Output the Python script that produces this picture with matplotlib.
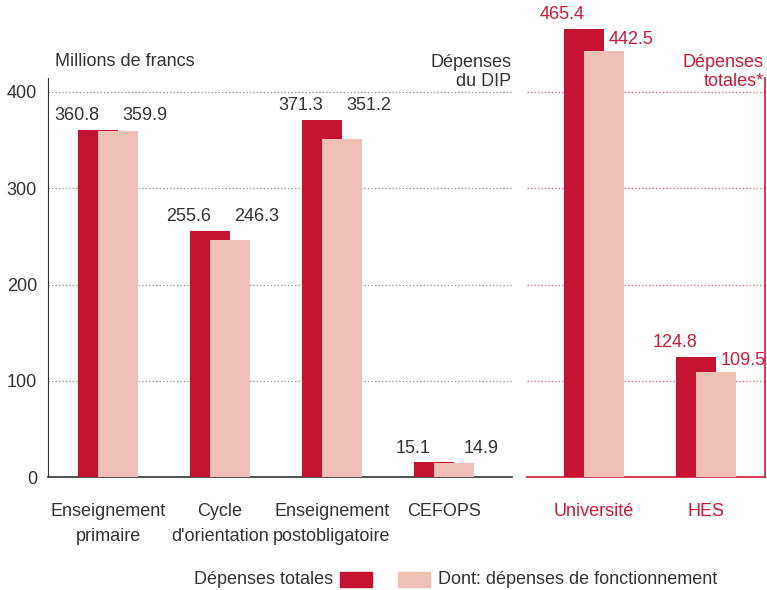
import matplotlib
matplotlib.use('Agg')
from matplotlib import pyplot as plt
from matplotlib.patches import Rectangle
import numpy as np

plt.rcParams['font.family'] = ['Liberation Sans', 'DejaVu Sans']
plt.rcParams['font.size'] = 13

# data
dip_cats = ['Enseignement\nprimaire', "Cycle\nd'orientation", 'Enseignement\npostobligatoire', 'CEFOPS']
dip_total = [360.8, 255.6, 371.3, 15.1]
dip_fonct = [359.9, 246.3, 351.2, 14.9]

tot_cats = ['Université', 'HES']
tot_total = [465.4, 124.8]
tot_fonct = [442.5, 109.5]

yticks = [0, 100, 200, 300, 400]

dark = '#c41230'
light = '#eec0b6'
grey = '#333333'
red = '#cc1a3a'

W, H = 767, 590
fig = plt.figure(figsize=(W/100, H/100), dpi=100)

def box(x0, x1, y0, y1):
    return [x0/W, 1-y1/H, (x1-x0)/W, (y1-y0)/H]

ax1 = fig.add_axes(box(48, 512, 5, 477))
ax2 = fig.add_axes(box(527, 765, 5, 477))

bw = 40/112.
off = 10/112.
ymax = 472/0.9625
fs = 13

def draw(ax, cats, tot, fon, xl, col, gcol, sep_labels):
    x = np.arange(len(cats))
    ax.bar(x-off, tot, bw, color=dark, zorder=3)
    ax.bar(x+off, fon, bw, color=light, zorder=4)
    ax.set_xlim(*xl)
    ax.set_ylim(0, ymax)
    for y in yticks[1:]:
        ax.axhline(y, color=gcol, lw=1, ls=(0, (1, 1.5)), zorder=1)
    for s in ['top', 'left', 'right']:
        ax.spines[s].set_visible(False)
    ax.spines['bottom'].set_color(col)
    ax.spines['bottom'].set_linewidth(1.2)
    ax.set_xticks(x)
    ax.set_xticklabels(cats, color=col, fontsize=fs, linespacing=1.55)
    ax.tick_params(axis='x', length=0, pad=19)
    for i in x:
        if sep_labels:
            y1, y2 = tot[i], fon[i]
        else:
            y1 = y2 = max(tot[i], fon[i])
        ax.annotate('%.1f' % tot[i], (i-off-bw/2, y1), xytext=(-1, 4),
                    textcoords='offset points', ha='center', va='bottom', color=col, fontsize=fs)
        ax.annotate('%.1f' % fon[i], (i+off+bw/2, y2), xytext=(5, 2 if sep_labels else 4),
                    textcoords='offset points', ha='center', va='bottom', color=col, fontsize=fs)

draw(ax1, dip_cats, dip_total, dip_fonct, (-0.536, 3.607), grey, '#999999', False)
draw(ax2, tot_cats, tot_total, tot_fonct, (-0.598, 1.527), red, '#e0707f', True)

ax1.spines['left'].set_visible(True)
ax1.spines['left'].set_color(grey)
ax1.spines['left'].set_bounds(0, 415)
ax1.set_yticks(yticks)
ax1.tick_params(axis='y', length=0, pad=8, labelcolor=grey, labelsize=fs)

ax2.spines['right'].set_visible(True)
ax2.spines['right'].set_color(red)
ax2.spines['right'].set_linewidth(1.2)
ax2.spines['right'].set_bounds(0, 415)
ax2.set_yticks([])

fig.text(55/W, 1-62/H, 'Millions de francs', color=grey, fontsize=fs, va='center')
fig.text(511/W, 1-72/H, 'Dépenses\ndu DIP', color=grey, fontsize=fs, va='center', ha='right',
         linespacing=1.1)
fig.text(764/W, 1-72/H, 'Dépenses\ntotales*', color=red, fontsize=fs, va='center', ha='right',
         linespacing=1.1)

# legend
fig.text(333/W, 1-579/H, 'Dépenses totales', color=grey, fontsize=fs, va='center', ha='right')
fig.patches.append(Rectangle((340/W, 1-587/H), 32/W, 15/H, transform=fig.transFigure,
                             color=dark, figure=fig))
fig.patches.append(Rectangle((398/W, 1-587/H), 32/W, 15/H, transform=fig.transFigure,
                             color=light, figure=fig))
fig.text(438/W, 1-579/H, 'Dont: dépenses de fonctionnement', color=grey, fontsize=fs, va='center')

plt.savefig('out.png', dpi=100)
